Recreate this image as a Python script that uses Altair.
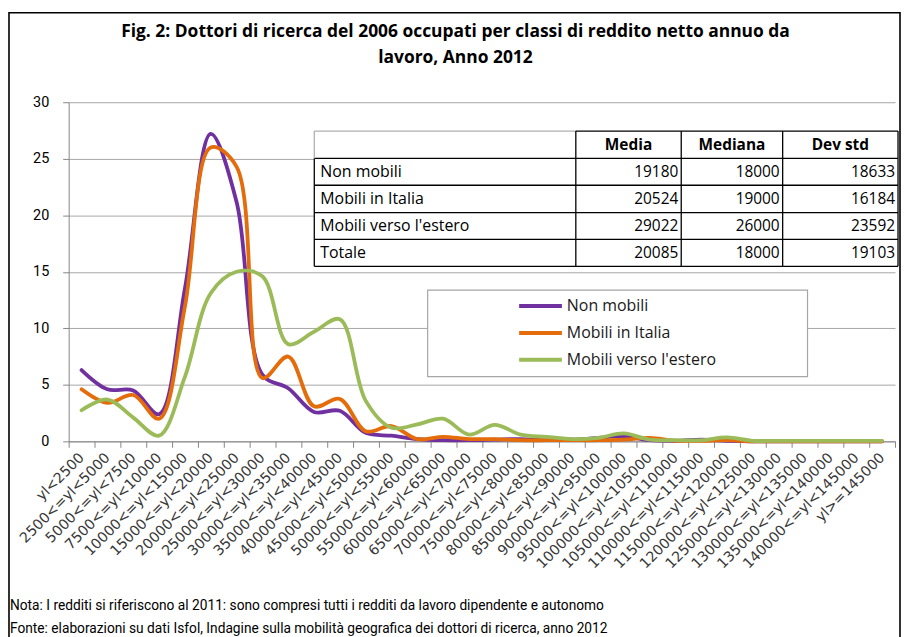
import altair as alt
import pandas as pd

# ---------------- data ----------------
categories = [
    "yl<2500", "2500<=yl<5000", "5000<=yl<7500", "7500<=yl<10000",
    "10000<=yl<15000", "15000<=yl<20000", "20000<=yl<25000", "25000<=yl<30000",
    "30000<=yl<35000", "35000<=yl<40000", "40000<=yl<45000", "45000<=yl<50000",
    "50000<=yl<55000", "55000<=yl<60000", "60000<=yl<65000", "65000<=yl<70000",
    "70000<=yl<75000", "75000<=yl<80000", "80000<=yl<85000", "85000<=yl<90000",
    "90000<=yl<95000", "95000<=yl<100000", "100000<=yl<105000", "105000<=yl<110000",
    "110000<=yl<115000", "115000<=yl<120000", "120000<=yl<125000", "125000<=yl<130000",
    "130000<=yl<135000", "135000<=yl<140000", "140000<=yl<145000", "yl>=145000",
]
non_mobili = [6.3, 4.6, 4.5, 2.4, 13.5, 27.2, 21.2, 5.9, 4.7, 2.6, 2.7, 0.75,
              0.5, 0.2, 0.1, 0.1, 0.15, 0.2, 0.1, 0.15, 0.3, 0.45, 0.1, 0.05,
              0.15, 0.05, 0.0, 0.0, 0.0, 0.0, 0.0, 0.0]
mobili_italia = [4.6, 3.4, 4.1, 2.0, 11.9, 26.0, 24.3, 5.6, 7.5, 3.1, 3.75, 0.9,
                 1.35, 0.2, 0.4, 0.2, 0.2, 0.1, 0.1, 0.1, 0.1, 0.15, 0.3, 0.05,
                 0.05, 0.1, 0.0, 0.0, 0.0, 0.0, 0.0, 0.0]
mobili_estero = [2.75, 3.7, 2.1, 0.5, 5.7, 13.1, 15.0, 14.6, 8.6, 9.7, 10.8, 3.6,
                 1.2, 1.5, 2.0, 0.6, 1.45, 0.6, 0.4, 0.2, 0.3, 0.7, 0.15, 0.1,
                 0.1, 0.35, 0.05, 0.05, 0.05, 0.05, 0.05, 0.05]
series_names = ["Non mobili", "Mobili in Italia", "Mobili verso l'estero"]
series_colors = ["#7030a0", "#e46c0a", "#9bbb59"]
y_ticks = [0, 5, 10, 15, 20, 25, 30]

table_rows = ["Non mobili", "Mobili in Italia", "Mobili verso l'estero", "Totale"]
table_cols = ["Media", "Mediana", "Dev std"]
media = [19180, 20524, 29022, 20085]
mediana = [18000, 19000, 26000, 18000]
dev_std = [18633, 16184, 23592, 19103]

title_lines = [
    "Fig. 2: Dottori di ricerca del 2006 occupati per classi di reddito netto annuo da",
    "lavoro, Anno 2012",
]
notes = [
    "Nota: I redditi si riferiscono al 2011: sono compresi tutti i redditi da lavoro dipendente e autonomo",
    "Fonte: elaborazioni su dati Isfol, Indagine sulla mobilità geografica dei dottori di ricerca, anno 2012",
]

# ---------------- layout (pixels, relative to plot origin) ----------------
W, H = 831, 341
PAD_L, PAD_T = 61, 93
PAD_R = 898 - PAD_L - W
PAD_B = 629 - PAD_T - H

# table geometry
t_left, t_c1, t_c2, t_c3, t_right = 247, 510, 616, 718, 834
t_rows = [29, 56.5, 83.5, 111, 138, 165]

# ---------------- line data ----------------
recs = []
for name, vals in zip(series_names, [non_mobili, mobili_italia, mobili_estero]):
    for i, (c, v) in enumerate(zip(categories, vals)):
        recs.append({"cat": c, "val": v, "series": name, "idx": i})
df = pd.DataFrame(recs)

lines = alt.Chart(df).mark_line(
    interpolate="catmull-rom", strokeWidth=3.8, strokeCap="round", strokeJoin="round"
).encode(
    x=alt.X(
        "cat:N", sort=categories, bandPosition=0.5,
        scale=alt.Scale(type="band", paddingInner=0, paddingOuter=0),
        axis=alt.Axis(
            title=None, labelAngle=-45, labelAlign="right", labelBaseline="middle",
            labelFont="DejaVu Sans", labelFontSize=14.3, labelColor="#383838",
            labelPadding=8, labelOverlap=False, labelLimit=300, tickBand="extent",
            tickSize=6, tickColor="#868686", domainColor="#868686", grid=False,
        ),
    ),
    y=alt.Y(
        "val:Q", scale=alt.Scale(domain=[0, 30], nice=False, zero=True),
        axis=alt.Axis(
            title=None, values=y_ticks, grid=True, gridColor="#a6a6a6", gridWidth=1,
            tickSize=6, tickColor="#868686", domainColor="#868686",
            labelFont="Roboto", labelFontSize=14.5, labelColor="#000000", labelPadding=14,
        ),
    ),
    color=alt.Color(
        "series:N", sort=series_names,
        scale=alt.Scale(domain=series_names, range=series_colors),
        legend=alt.Legend(
            title=None, orient="none", legendX=451, legendY=191.5,
            symbolType="stroke", symbolSize=1849, symbolStrokeWidth=4,
            labelFont="Open Sans", labelFontSize=16, labelColor="#1a1a1a",
            rowPadding=0, clipHeight=27, padding=0, labelOffset=3,
        ),
    ),
    order=alt.Order("idx:Q"),
)

# ---------------- boxes ----------------
box_df = pd.DataFrame([
    {"x": t_left, "x2": t_right, "y": t_rows[0], "y2": t_rows[-1]},
])
table_bg = alt.Chart(box_df).mark_rect(fill="white").encode(
    x=alt.X("x:Q", scale=None, axis=None), x2="x2:Q",
    y=alt.Y("y:Q", scale=None, axis=None), y2="y2:Q",
)
legend_box_df = pd.DataFrame([{"x": 361, "x2": 743, "y": 189, "y2": 276}])
legend_box = alt.Chart(legend_box_df).mark_rect(
    fill="white", stroke="#a6a6a6", strokeWidth=1.2
).encode(
    x=alt.X("x:Q", scale=None, axis=None), x2="x2:Q",
    y=alt.Y("y:Q", scale=None, axis=None), y2="y2:Q",
)
frame_df = pd.DataFrame([{"x": -60, "x2": 836, "y": -90, "y2": 560}])
frame = alt.Chart(frame_df).mark_rect(
    fill="transparent", stroke="#000000", strokeWidth=1.6
).encode(
    x=alt.X("x:Q", scale=None, axis=None), x2="x2:Q",
    y=alt.Y("y:Q", scale=None, axis=None), y2="y2:Q",
)

# ---------------- table lines ----------------
dark, light = "#000000", "#b0b0b0"
rl = []
rl.append({"x": t_left, "x2": t_c1, "y": t_rows[0], "y2": t_rows[0], "c": light})
rl.append({"x": t_c1, "x2": t_right, "y": t_rows[0], "y2": t_rows[0], "c": dark})
for yy in t_rows[1:]:
    rl.append({"x": t_left, "x2": t_right, "y": yy, "y2": yy, "c": dark})
rl.append({"x": t_left, "x2": t_left, "y": t_rows[0], "y2": t_rows[1], "c": light})
rl.append({"x": t_left, "x2": t_left, "y": t_rows[1], "y2": t_rows[-1], "c": dark})
for xx in [t_c1, t_c2, t_c3, t_right]:
    rl.append({"x": xx, "x2": xx, "y": t_rows[0], "y2": t_rows[-1], "c": dark})
rules_df = pd.DataFrame(rl)
table_rules = alt.Chart(rules_df).mark_rule(strokeWidth=1.3).encode(
    x=alt.X("x:Q", scale=None, axis=None), x2="x2:Q",
    y=alt.Y("y:Q", scale=None, axis=None), y2="y2:Q",
    color=alt.Color("c:N", scale=None, legend=None),
)

# ---------------- table texts ----------------
row_mid = [(t_rows[i] + t_rows[i + 1]) / 2 for i in range(len(t_rows) - 1)]
head_df = pd.DataFrame({
    "t": table_cols,
    "x": [(t_c1 + t_c2) / 2, (t_c2 + t_c3) / 2, (t_c3 + t_right) / 2],
    "y": [row_mid[0]] * 3,
})
table_head = alt.Chart(head_df).mark_text(
    font="Open Sans", fontSize=15.5, fontWeight="bold", color="#000000",
    align="center", baseline="middle",
).encode(
    x=alt.X("x:Q", scale=None, axis=None), y=alt.Y("y:Q", scale=None, axis=None), text="t:N",
)
lab_df = pd.DataFrame({"t": table_rows, "x": [t_left + 6] * 4, "y": row_mid[1:]})
table_labels = alt.Chart(lab_df).mark_text(
    font="Open Sans", fontSize=16, color="#000000", align="left", baseline="middle",
).encode(
    x=alt.X("x:Q", scale=None, axis=None), y=alt.Y("y:Q", scale=None, axis=None), text="t:N",
)
num_recs = []
for col_vals, xr in zip([media, mediana, dev_std], [t_c2 - 3, t_c3 - 3, t_right - 3]):
    for v, yy in zip(col_vals, row_mid[1:]):
        num_recs.append({"t": str(v), "x": xr, "y": yy})
num_df = pd.DataFrame(num_recs)
table_nums = alt.Chart(num_df).mark_text(
    font="Open Sans", fontSize=15.5, color="#000000", align="right", baseline="middle",
).encode(
    x=alt.X("x:Q", scale=None, axis=None), y=alt.Y("y:Q", scale=None, axis=None), text="t:N",
)

# ---------------- title & notes ----------------
title_df = pd.DataFrame({"t": title_lines, "x": [389, 389], "y": [-71, -44]})
title = alt.Chart(title_df).mark_text(
    font="Open Sans", fontSize=17.5, fontWeight="bold", color="#000000",
    align="center", baseline="middle",
).encode(
    x=alt.X("x:Q", scale=None, axis=None), y=alt.Y("y:Q", scale=None, axis=None), text="t:N",
)
notes_df = pd.DataFrame({"t": notes, "x": [-59, -59], "y": [507, 530]})
notes_txt = alt.Chart(notes_df).mark_text(
    font="Roboto", fontSize=13.8, color="#000000", align="left", baseline="middle",
).encode(
    x=alt.X("x:Q", scale=None, axis=None), y=alt.Y("y:Q", scale=None, axis=None), text="t:N",
)

chart = alt.layer(
    lines, table_bg, table_rules, table_head, table_labels, table_nums,
    legend_box, frame, title, notes_txt,
).properties(
    width=W, height=H,
    autosize=alt.AutoSizeParams(type="none"),
    padding={"left": PAD_L, "top": PAD_T, "right": PAD_R, "bottom": PAD_B},
    background="white",
).configure_view(stroke="transparent")

chart.save("out.html", embed_options={"renderer": "svg", "actions": False})
